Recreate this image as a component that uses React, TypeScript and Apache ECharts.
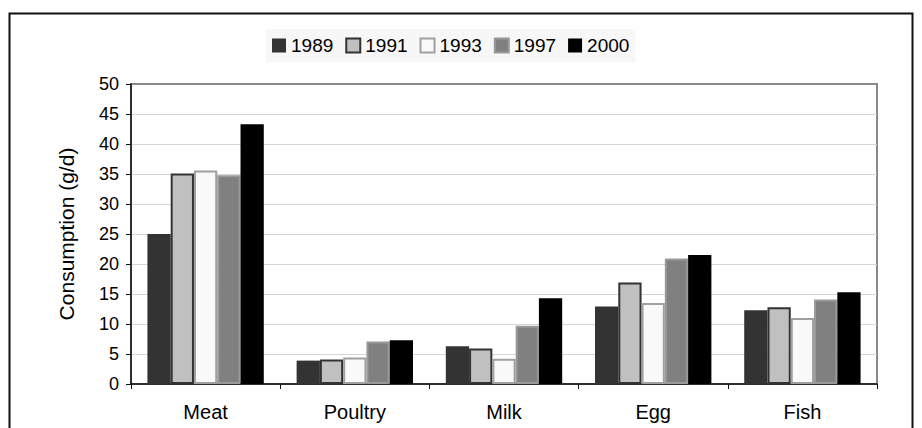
import React, { useEffect, useRef } from "react";
import * as echarts from "echarts";

// Daily consumption by food group (g/d), per survey year
const categories = ["Meat", "Poultry", "Milk", "Egg", "Fish"];
const years = ["1989", "1991", "1993", "1997", "2000"];
const values1989 = [25.0, 3.9, 6.3, 12.9, 12.3];
const values1991 = [35.1, 4.1, 5.9, 16.9, 12.8];
const values1993 = [35.6, 4.4, 4.2, 13.5, 11.0];
const values1997 = [34.8, 7.1, 9.7, 20.9, 14.1];
const values2000 = [43.3, 7.3, 14.3, 21.5, 15.3];
const seriesValues = [values1989, values1991, values1993, values1997, values2000];

const yMin = 0;
const yMax = 50;
const yStep = 5;

const FONT = 'Arial, "Liberation Sans", Helvetica, sans-serif';

// Grayscale fills with their outlines, one per year
const barStyles = [
  { color: "#333333", borderColor: "#333333", borderWidth: 0 },
  { color: "#c0c0c0", borderColor: "#333333", borderWidth: 2 },
  { color: "#f9f9f9", borderColor: "#a0a0a0", borderWidth: 2 },
  { color: "#808080", borderColor: "#999999", borderWidth: 2 },
  { color: "#000000", borderColor: "#000000", borderWidth: 0 },
];

export default function App() {
  const ref = useRef<HTMLDivElement>(null);

  useEffect(() => {
    if (!ref.current) return;
    const chart = echarts.init(ref.current, undefined, { renderer: "svg" });
    chart.setOption({
      animation: false,
      backgroundColor: "#ffffff",
      textStyle: { fontFamily: FONT },
      legend: {
        data: years,
        top: 29,
        left: 266,
        itemWidth: 14,
        itemHeight: 14,
        itemGap: 12,
        padding: [7, 6],
        backgroundColor: "#f7f7f7",
        textStyle: { fontSize: 19, color: "#000", fontFamily: FONT },
        icon: "rect",
      },
      grid: {
        left: 131,
        right: 45,
        top: 84,
        bottom: 44,
        show: true,
        borderColor: "#888888",
        borderWidth: 2,
        backgroundColor: "transparent",
      },
      xAxis: {
        type: "category",
        data: categories,
        axisLine: { show: true, lineStyle: { color: "#111", width: 1.5 } },
        axisTick: { show: true, length: 5, alignWithLabel: false, lineStyle: { color: "#111" } },
        axisLabel: { fontSize: 20, color: "#000", margin: 18, fontFamily: FONT },
        splitLine: { show: false },
      },
      yAxis: {
        type: "value",
        min: yMin,
        max: yMax,
        interval: yStep,
        name: "Consumption (g/d)",
        nameLocation: "middle",
        nameRotate: 90,
        nameGap: 54,
        nameTextStyle: { fontSize: 21, color: "#000", fontFamily: FONT },
        axisLine: { show: true, lineStyle: { color: "#111", width: 1.5 } },
        axisTick: { show: true, length: 5, lineStyle: { color: "#111" } },
        axisLabel: { fontSize: 18, color: "#000", margin: 12, fontFamily: FONT },
        splitLine: {
          show: true,
          showMaxLine: false,
          showMinLine: false,
          lineStyle: { color: "#d4d4d4", width: 1.2 },
        },
      },
      series: years.map((y, i) => ({
        name: y,
        type: "bar",
        data: seriesValues[i],
        barGap: "0%",
        barCategoryGap: "22%",
        itemStyle: barStyles[i],
        emphasis: { disabled: true },
      })),
      graphic: [
        {
          type: "rect",
          shape: { x: 9.5, y: 13.5, width: 903, height: 440 },
          style: { fill: "none", stroke: "#111", lineWidth: 2 },
          silent: true,
          z: 100,
        },
      ],
    });
    return () => chart.dispose();
  }, []);

  return (
    <div
      ref={ref}
      style={{ position: "fixed", left: 0, top: 0, width: 922, height: 428 }}
    />
  );
}
